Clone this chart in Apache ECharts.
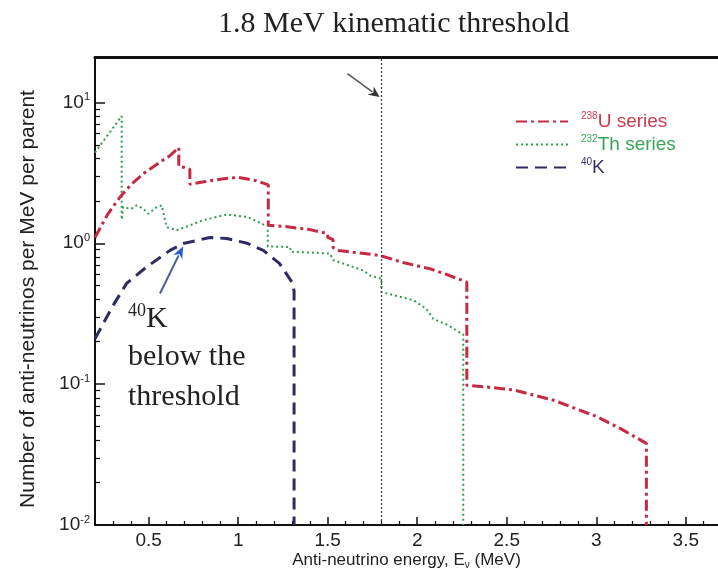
<!DOCTYPE html>
<html><head><meta charset="utf-8">
<script src="https://cdn.jsdelivr.net/npm/echarts@6/dist/echarts.min.js"></script>
<style>html,body{margin:0;padding:0;background:#fff}#c{width:718px;height:575px}</style>
</head><body><div id="c"></div>
<script>
// ---- data ----
const uEnergy = [0.20,0.27,0.34,0.40,0.47,0.563,0.62,0.668,0.668,0.70,0.73,0.73,0.80,0.90,1.00,1.10,1.168,1.168,1.25,1.40,1.50,1.50,1.53,1.53,1.56,1.65,1.79,1.92,2.07,2.18,2.277,2.277,2.40,2.537,2.76,3.00,3.133,3.28,3.28];
const uValue  = [1.10,1.60,2.13,2.60,3.12,3.77,4.20,4.78,3.50,3.45,3.35,2.62,2.72,2.85,2.94,2.78,2.60,1.34,1.32,1.25,1.17,1.10,1.06,0.93,0.89,0.86,0.82,0.73,0.66,0.59,0.53,0.098,0.095,0.091,0.077,0.059,0.0485,0.038,0.01];

const thEnergy = [0.20,0.349,0.349,0.358,0.40,0.433,0.47,0.498,0.545,0.573,0.60,0.656,0.73,0.805,0.936,1.05,1.14,1.165,1.165,1.29,1.293,1.40,1.513,1.53,1.70,1.736,1.80,1.80,1.978,2.05,2.09,2.165,2.257,2.257];
const thValue  = [4.40,8.00,1.47,1.81,1.75,1.86,1.76,1.62,1.81,1.86,1.30,1.24,1.34,1.46,1.60,1.54,1.36,1.34,0.95,0.94,0.87,0.86,0.845,0.76,0.64,0.59,0.56,0.45,0.394,0.344,0.29,0.265,0.225,0.01];

const kEnergy = [0.20,0.30,0.377,0.489,0.619,0.693,0.842,0.936,1.05,1.14,1.23,1.30,1.312,1.312];
const kValue  = [0.21,0.36,0.52,0.68,0.89,0.995,1.10,1.08,1.00,0.89,0.72,0.53,0.46,0.01];

const thresholdEnergy = 1.8;

const xMajorTicks = [0.5,1,1.5,2,2.5,3,3.5];
const xTickLabels = ['0.5','1','1.5','2','2.5','3','3.5'];
const xMinorTicks = [0.3,0.4,0.6,0.7,0.8,0.9,1.1,1.2,1.3,1.4,1.6,1.7,1.8,1.9,2.1,2.2,2.3,2.4,2.6,2.7,2.8,2.9,3.1,3.2,3.3,3.4,3.6];
const yMajorTicks = [0.01,0.1,1,10];
const yTickExponents = ['-2','-1','0','1'];
const yMinorTicks = [0.02,0.03,0.04,0.05,0.06,0.07,0.08,0.09,0.2,0.3,0.4,0.5,0.6,0.7,0.8,0.9,2,3,4,5,6,7,8,9];

const seriesNames = ['U238','Th232','K40'];
const legendSup = ['238','232','40'];
const legendMain = ['U series','Th series','K'];
const seriesColors = ['#c42a42','#2f9c50','#2c2c62'];
const legendTextColors = ['#d03a4c','#3aa45a','#33336e'];

// annotation anchors in data space [energy, value]
const thresholdArrow = [[1.61, 16.0],[1.79, 10.9]];
const kArrow = [[0.563, 0.44],[0.692, 0.95]];

// ---- chart ----
const chart = echarts.init(document.getElementById('c'));
const pair = (xs, ys) => xs.map((x, i) => [x, ys[i]]);
const findIdx = (arr, v) => arr.findIndex(a => Math.abs(a - v) < 1e-9);
const axisColor = '#111';
const X_MIN = 0.2, X_MAX = 3.68, Y_MIN = 0.01, Y_MAX = 21;

const option = {
  animation: false,
  backgroundColor: '#fff',
  grid: { left: 95, top: 57, bottom: 50, right: 0, show: false, outerBoundsMode: 'none', containLabel: false },
  xAxis: [
    {
      type: 'value', min: X_MIN, max: X_MAX, position: 'bottom',
      axisLine: { show: true, lineStyle: { color: axisColor, width: 2 } },
      axisTick: { show: true, inside: true, length: 8, customValues: xMajorTicks, lineStyle: { color: axisColor, width: 1.5 } },
      axisLabel: {
        customValues: xMajorTicks,
        formatter: v => xTickLabels[findIdx(xMajorTicks, v)],
        fontSize: 19, color: '#222', fontFamily: 'Liberation Sans', margin: 6
      },
      splitLine: { show: false },
      name: '{a|Anti-neutrino energy, E}{sub|ν}{a| (MeV)}',
      nameLocation: 'middle', nameGap: 25, nameMoveOverlap: false,
      nameTextStyle: {
        rich: {
          a: { fontSize: 17, fontFamily: 'Liberation Sans', color: '#222', lineHeight: 20 },
          sub: { fontSize: 10, fontFamily: 'Liberation Sans', color: '#222', verticalAlign: 'bottom', lineHeight: 14 }
        }
      }
    },
    {
      type: 'value', min: X_MIN, max: X_MAX, position: 'bottom', offset: 0,
      axisLine: { show: false },
      axisTick: { show: true, inside: true, length: 4, customValues: xMinorTicks, lineStyle: { color: axisColor, width: 1.2 } },
      axisLabel: { show: false }, splitLine: { show: false }
    },
    {
      type: 'value', min: X_MIN, max: X_MAX, position: 'top', offset: 0,
      axisLine: { show: true, lineStyle: { color: axisColor, width: 3 } },
      axisTick: { show: false }, axisLabel: { show: false }, splitLine: { show: false }
    }
  ],
  yAxis: [
    {
      type: 'log', logBase: 10, min: Y_MIN, max: Y_MAX, position: 'left',
      axisLine: { show: true, lineStyle: { color: axisColor, width: 2 } },
      axisTick: { show: true, inside: true, length: 10, customValues: yMajorTicks, lineStyle: { color: axisColor, width: 1.5 } },
      axisLabel: {
        customValues: yMajorTicks,
        formatter: v => '{b|10}{s|' + yTickExponents[findIdx(yMajorTicks, v)] + '}',
        margin: 5,
        rich: {
          b: { fontSize: 19, fontFamily: 'Liberation Sans', color: '#222', lineHeight: 22 },
          s: { fontSize: 11, fontFamily: 'Liberation Sans', color: '#222', verticalAlign: 'top', lineHeight: 12 }
        }
      },
      splitLine: { show: false },
      name: 'Number of anti-neutrinos per MeV per parent',
      nameLocation: 'middle', nameGap: 56,
      nameTextStyle: { fontSize: 21, fontFamily: 'Liberation Sans', color: '#222', padding: [0, 16, 0, 0] }
    },
    {
      type: 'log', logBase: 10, min: Y_MIN, max: Y_MAX, position: 'left', offset: 0,
      axisLine: { show: false },
      axisTick: { show: true, inside: true, length: 5, customValues: yMinorTicks, lineStyle: { color: axisColor, width: 1.2 } },
      axisLabel: { show: false }, splitLine: { show: false }
    }
  ],
  legend: {
    orient: 'vertical', left: 510, top: 106, itemWidth: 52, itemHeight: 14, itemGap: 3,
    itemStyle: { opacity: 0 },
    data: seriesNames.map((n, i) => ({ name: n, textStyle: { color: legendTextColors[i] } })),
    formatter: name => {
      const i = seriesNames.indexOf(name);
      return '{s|' + legendSup[i] + '}{m|' + legendMain[i] + '}';
    },
    textStyle: {
      padding: [0, 0, 0, 8],
      rich: {
        s: { fontSize: 10, fontFamily: 'Liberation Sans', verticalAlign: 'top', lineHeight: 10 },
        m: { fontSize: 19, fontFamily: 'Liberation Sans', lineHeight: 21 }
      }
    }
  },
  series: [
    {
      name: seriesNames[0], type: 'line', data: pair(uEnergy, uValue), symbol: 'none',
      lineStyle: { color: seriesColors[0], width: 3, type: [11, 4, 3, 4] },
      itemStyle: { color: seriesColors[0] },
      markLine: {
        silent: true, symbol: 'none', label: { show: false },
        lineStyle: { color: '#444', width: 1.3, type: [2, 2] },
        data: [{ xAxis: thresholdEnergy }]
      },
      z: 3
    },
    {
      name: seriesNames[1], type: 'line', data: pair(thEnergy, thValue), symbol: 'none',
      lineStyle: { color: seriesColors[1], width: 2, type: [2, 3] },
      itemStyle: { color: seriesColors[1] }, z: 2
    },
    {
      name: seriesNames[2], type: 'line', data: pair(kEnergy, kValue), symbol: 'none',
      lineStyle: { color: seriesColors[2], width: 3, type: [12, 7] },
      itemStyle: { color: seriesColors[2] }, z: 2
    }
  ]
};
chart.setOption(option);

// ---- annotations ----
function arrow(fromData, toData, shaftColor, headColor, w, headLen, headW) {
  const a = chart.convertToPixel({ xAxisIndex: 0, yAxisIndex: 0 }, fromData);
  const b = chart.convertToPixel({ xAxisIndex: 0, yAxisIndex: 0 }, toData);
  const dx = b[0] - a[0], dy = b[1] - a[1];
  const L = Math.hypot(dx, dy), ux = dx / L, uy = dy / L;
  const bx = b[0] - ux * headLen, by = b[1] - uy * headLen;
  return [
    { type: 'line', shape: { x1: a[0], y1: a[1], x2: bx + ux * 2, y2: by + uy * 2 }, style: { stroke: shaftColor, lineWidth: w }, z: 10 },
    { type: 'polygon', shape: { points: [[b[0], b[1]], [bx - uy * headW, by + ux * headW], [bx + ux * headLen * 0.3, by + uy * headLen * 0.3], [bx + uy * headW, by - ux * headW]] }, style: { fill: headColor }, z: 10 }
  ];
}
const graphics = [
  { type: 'text', left: 218, top: 9, style: { text: '1.8 MeV kinematic threshold', font: '30px "Liberation Serif"', fill: '#222' }, z: 10 },
  { type: 'text', left: 128, top: 302, style: { text: '{s|40}{k|K}', rich: {
      s: { font: '18px "Liberation Serif"', fill: '#222', verticalAlign: 'top', lineHeight: 18 },
      k: { font: '30px "Liberation Serif"', fill: '#222', lineHeight: 34 } } }, z: 10 },
  { type: 'text', left: 128, top: 342, style: { text: 'below the', font: '30px "Liberation Serif"', fill: '#222' }, z: 10 },
  { type: 'text', left: 128, top: 382, style: { text: 'threshold', font: '30px "Liberation Serif"', fill: '#222' }, z: 10 }
].concat(arrow(thresholdArrow[0], thresholdArrow[1], '#555', '#333', 1.5, 11, 5))
 .concat(arrow(kArrow[0], kArrow[1], '#4a5c9c', '#2a56d8', 2, 12, 5));
chart.setOption({ graphic: graphics });
</script>
</body></html>
